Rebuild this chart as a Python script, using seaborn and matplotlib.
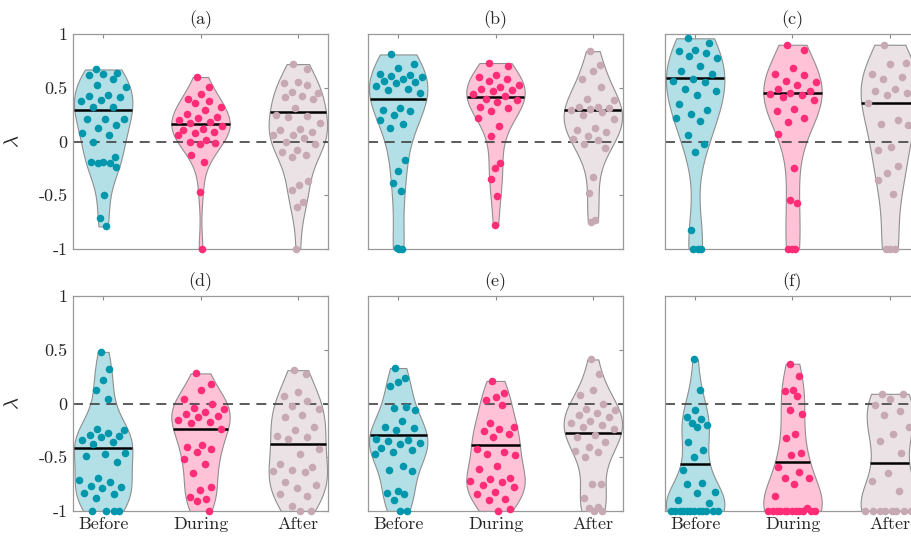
import matplotlib.pyplot as plt
import numpy as np
import pandas as pd
import seaborn as sns

phases = ['Before', 'During', 'After']
panel_titles = ['(a)', '(b)', '(c)', '(d)', '(e)', '(f)']

# lambda values, one list per panel and phase
before_a = [0.67, 0.64, 0.63, 0.62, 0.58, 0.53, 0.51, 0.43, 0.42, 0.41, 0.39, 0.38, 0.32, 0.32,
            0.21, 0.21, 0.21, 0.15, 0.13, 0.08, 0.06, 0.0, -0.14, -0.19, -0.19, -0.2, -0.2,
            -0.24, -0.5, -0.71, -0.79]
during_a = [0.6, 0.51, 0.44, 0.4, 0.38, 0.36, 0.32, 0.29, 0.26, 0.23, 0.22, 0.2, 0.18, 0.17,
            0.14, 0.12, 0.11, 0.09, 0.08, 0.06, 0.01, 0.0, -0.01, -0.02, -0.13, -0.19, -0.47, -1.0]
after_a = [0.72, 0.67, 0.55, 0.54, 0.53, 0.46, 0.45, 0.42, 0.41, 0.40, 0.31, 0.25, 0.24, 0.23,
           0.17, 0.12, 0.11, 0.09, 0.06, 0.06, 0.03, 0.0, -0.02, -0.08, -0.1, -0.13, -0.14,
           -0.37, -0.4, -0.45, -0.56, -0.61, -1.0]
centre_a = [0.29, 0.16, 0.27]

before_b = [0.81, 0.72, 0.68, 0.63, 0.62, 0.61, 0.6, 0.58, 0.56, 0.55, 0.54, 0.52, 0.49, 0.48,
            0.45, 0.31, 0.29, 0.28, 0.25, 0.2, 0.16, 0.13, -0.17, -0.27, -0.39, -0.46, -0.99,
            -1.0, -1.0]
during_b = [0.73, 0.7, 0.62, 0.6, 0.58, 0.56, 0.53, 0.51, 0.49, 0.48, 0.47, 0.44, 0.42, 0.4,
            0.39, 0.37, 0.32, 0.31, 0.28, 0.22, 0.14, 0.05, -0.2, -0.25, -0.35, -0.51, -0.78]
after_b = [0.84, 0.71, 0.66, 0.58, 0.51, 0.4, 0.39, 0.32, 0.32, 0.31, 0.3, 0.29, 0.27, 0.25,
           0.21, 0.13, 0.11, 0.09, 0.05, 0.02, 0.01, -0.02, -0.06, -0.33, -0.48, -0.73, -0.75]
centre_b = [0.4, 0.41, 0.29]

before_c = [0.96, 0.92, 0.85, 0.84, 0.82, 0.8, 0.78, 0.7, 0.66, 0.63, 0.58, 0.56, 0.55, 0.49,
            0.47, 0.43, 0.35, 0.29, 0.26, 0.22, 0.19, 0.06, -0.02, -0.1, -0.82, -1.0, -1.0, -1.0]
during_c = [0.9, 0.85, 0.68, 0.63, 0.62, 0.56, 0.55, 0.53, 0.49, 0.47, 0.45, 0.44, 0.43, 0.41,
            0.39, 0.3, 0.28, 0.22, 0.18, 0.07, -0.25, -0.54, -0.57, -1.0, -1.0, -1.0]
after_c = [0.9, 0.73, 0.72, 0.63, 0.6, 0.58, 0.53, 0.49, 0.47, 0.45, 0.43, 0.36, 0.2, 0.16,
           0.15, -0.05, -0.08, -0.23, -0.29, -0.36, -0.49, -1.0, -1.0, -1.0]
centre_c = [0.59, 0.45, 0.36]

before_d = [0.48, 0.32, 0.22, 0.13, 0.04, -0.24, -0.25, -0.27, -0.29, -0.3, -0.31, -0.34, -0.36,
            -0.38, -0.46, -0.47, -0.49, -0.54, -0.69, -0.71, -0.73, -0.77, -0.78, -0.79, -0.83,
            -0.84, -0.88, -1.0, -1.0, -1.0, -1.0]
during_d = [0.28, 0.18, 0.13, 0.04, 0.0, -0.04, -0.05, -0.08, -0.1, -0.12, -0.13, -0.15, -0.17,
            -0.18, -0.24, -0.39, -0.4, -0.42, -0.45, -0.52, -0.56, -0.65, -0.78, -0.8, -0.87,
            -0.89, -0.91, -1.0]
after_d = [0.31, 0.27, 0.11, 0.07, 0.02, -0.02, -0.05, -0.11, -0.13, -0.22, -0.25, -0.3, -0.31,
           -0.33, -0.42, -0.47, -0.56, -0.59, -0.62, -0.63, -0.64, -0.73, -0.76, -0.79, -0.84,
           -0.86, -0.95, -1.0, -1.0]
centre_d = [-0.41, -0.24, -0.38]

before_e = [0.33, 0.24, 0.2, 0.16, -0.03, -0.04, -0.06, -0.16, -0.22, -0.23, -0.25, -0.33,
            -0.34, -0.35, -0.37, -0.38, -0.41, -0.43, -0.45, -0.47, -0.58, -0.62, -0.63, -0.81,
            -0.83, -0.84, -0.9, -1.0, -1.0]
during_e = [0.21, 0.1, 0.06, 0.03, -0.01, -0.18, -0.22, -0.24, -0.26, -0.28, -0.31, -0.42, -0.45,
            -0.47, -0.48, -0.58, -0.61, -0.69, -0.7, -0.72, -0.73, -0.76, -0.78, -0.82, -0.84,
            -0.89, -0.9, -0.98, -1.0]
after_e = [0.41, 0.27, 0.13, 0.08, 0.0, -0.05, -0.06, -0.09, -0.11, -0.13, -0.16, -0.18, -0.2,
           -0.22, -0.24, -0.29, -0.31, -0.36, -0.4, -0.44, -0.45, -0.5, -0.75, -0.75, -0.88,
           -0.96, -0.97, -1.0, -1.0]
centre_e = [-0.29, -0.39, -0.27]

before_f = [0.41, 0.13, -0.06, -0.13, -0.14, -0.18, -0.2, -0.22, -0.36, -0.43, -0.5, -0.62,
            -0.74, -0.75, -0.82, -0.83, -0.9, -0.93] + [-1.0] * 12
during_f = [0.37, 0.26, 0.13, 0.12, 0.07, -0.06, -0.1, -0.28, -0.32, -0.46, -0.48, -0.59, -0.64,
            -0.69, -0.69, -0.75, -0.86, -0.97] + [-1.0] * 12
after_f = [0.09, 0.09, 0.04, -0.01, -0.07, -0.11, -0.22, -0.28, -0.35, -0.46, -0.65, -0.72,
           -0.81] + [-1.0] * 8
centre_f = [-0.56, -0.54, -0.55]

panels = [
    (before_a, during_a, after_a, centre_a),
    (before_b, during_b, after_b, centre_b),
    (before_c, during_c, after_c, centre_c),
    (before_d, during_d, after_d, centre_d),
    (before_e, during_e, after_e, centre_e),
    (before_f, during_f, after_f, centre_f),
]

dot_colors = ['#0097ad', '#ff2d78', '#c7a9b4']
fill_colors = ['#b3e0e6', '#ffc2d6', '#ebe2e5']
violin_width = 0.6


def kde_on(vals, pts):
    vals = np.asarray(vals, dtype=float)
    h = np.std(vals, ddof=1) * len(vals) ** (-0.2)
    z = (np.asarray(pts)[:, None] - vals[None, :]) / h
    return np.exp(-0.5 * z ** 2).sum(axis=1)


def half_width(vals, pts):
    grid = np.linspace(min(vals), max(vals), 100)
    peak = kde_on(vals, grid).max()
    return kde_on(vals, pts) / peak * violin_width / 2


sns.set_style('white')
plt.rcParams['font.family'] = ['serif']
plt.rcParams['font.serif'] = ['cmr10', 'DejaVu Serif']
plt.rcParams['mathtext.fontset'] = 'cm'
plt.rcParams['axes.unicode_minus'] = False

fig = plt.figure(figsize=(9.11, 5.39), dpi=100)
lefts = [73 / 911, 368 / 911, 665 / 911]
bottoms = [1 - 249 / 539, 1 - 511 / 539]
w, h = 255 / 911, 215 / 539

for k, (b, d, a, centre) in enumerate(panels):
    row, col = divmod(k, 3)
    ax = fig.add_axes([lefts[col], bottoms[row], w, h])
    groups = [b, d, a]
    df = pd.DataFrame({
        'phase': np.repeat(phases, [len(g) for g in groups]),
        'lam': np.concatenate(groups),
    })
    sns.violinplot(data=df, x='phase', y='lam', hue='phase', order=phases, hue_order=phases,
                   palette=fill_colors, cut=0, inner=None, density_norm='width',
                   width=violin_width, linewidth=0.8, linecolor='#8f8f8f', saturation=1,
                   legend=False, ax=ax, zorder=1)
    ax.axhline(0, color='#404040', lw=1.2, dashes=(6, 4), zorder=2)

    for i, g in enumerate(groups):
        g = np.asarray(g)
        # deterministic spread inside the violin outline
        u = 2 * ((np.arange(len(g)) * 0.618034 + 0.27) % 1) - 1
        xs = i + 0.88 * u * half_width(g, g)
        sns.scatterplot(x=xs, y=g, color=dot_colors[i], s=30, linewidth=0, ax=ax,
                        clip_on=False, zorder=4)
        hw = half_width(g, [centre[i]])[0]
        ax.hlines(centre[i], i - hw, i + hw, color='black', lw=1.8, zorder=3)

    ax.set_xlim(-0.31, 2.31)
    ax.set_ylim(-1, 1)
    ax.set_xticks(range(3))
    ax.set_yticks([-1, -0.5, 0, 0.5, 1])
    ax.set_xlabel('')
    ax.set_ylabel('')
    if row == 1:
        ax.set_xticklabels(phases, fontsize=13)
    else:
        ax.set_xticklabels([])
    if col == 0:
        ax.set_yticklabels(['-1', '-0.5', '0', '0.5', '1'], fontsize=13)
        ax.set_ylabel(r'$\lambda$', fontsize=15)
        ax.yaxis.set_label_coords(-0.2, 0.5)
    else:
        ax.set_yticklabels([])
    ax.tick_params(direction='in', length=3, width=0.8, color='#8a8a8a',
                   top=True, right=True, pad=4)
    for s in ax.spines.values():
        s.set_color('#999999')
        s.set_linewidth(0.9)
    ax.set_title(panel_titles[k], fontsize=13, pad=7)

fig.savefig('out.png', dpi=100)
